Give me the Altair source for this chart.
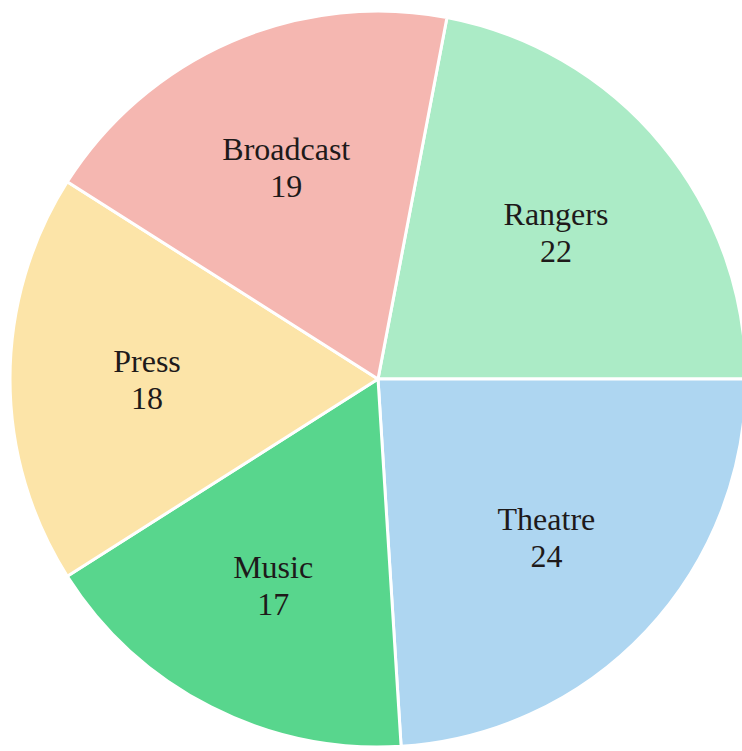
import math
import altair as alt
import pandas as pd

categories = ["Rangers", "Theatre", "Music", "Press", "Broadcast"]
values = [22, 24, 17, 18, 19]
colors = ["#abebc6", "#aed6f1", "#58d68d", "#fce4a8", "#f5b7b1"]

df = pd.DataFrame({
    "category": categories,
    "value": values,
    "order": list(range(len(categories))),
    "label": [f"{c}\n{v}" for c, v in zip(categories, values)],
})

start = 0.1885
theta_scale = alt.Scale(range=[start, start + 2 * math.pi])

base = alt.Chart(df).encode(
    theta=alt.Theta("value:Q", stack=True, scale=theta_scale),
    order=alt.Order("order:Q"),
    x=alt.value(378),
    y=alt.value(379),
)

arcs = base.mark_arc(outerRadius=368, stroke="white", strokeWidth=3).encode(
    color=alt.Color("category:N", scale=alt.Scale(domain=categories, range=colors), legend=None)
)

texts = base.mark_text(
    radius=231, font="Liberation Serif", fontSize=32, lineBreak="\n",
    lineHeight=37, color="#1e1a1a", align="center", baseline="middle", dy=-17
).encode(text="label:N")

chart = (arcs + texts).properties(
    width=742, height=751, padding=0, autosize=alt.AutoSizeParams(type="none")
).configure_view(stroke=None)

chart.save("out.html", embed_options={"renderer": "svg", "actions": False})
